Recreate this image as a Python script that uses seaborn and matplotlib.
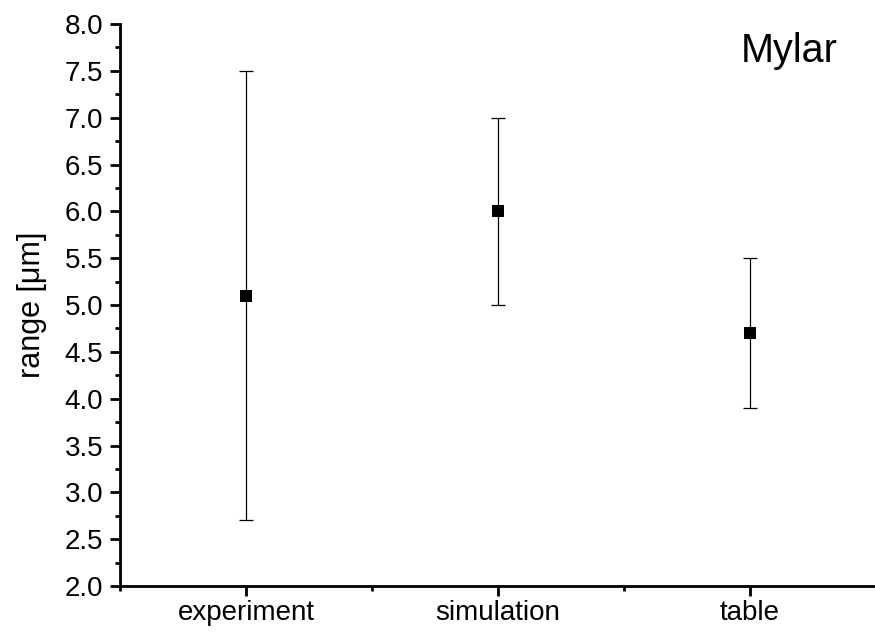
import matplotlib
matplotlib.use("Agg")
import matplotlib.pyplot as plt
from matplotlib.ticker import MultipleLocator, FixedLocator, FormatStrFormatter
import seaborn as sns
import pandas as pd

categories = ["experiment", "simulation", "table"]
values = [5.1, 6.0, 4.7]
lower = [2.7, 5.0, 3.9]
upper = [7.5, 7.0, 5.5]

sns.set_style("ticks")
plt.rcParams['font.family'] = ['Liberation Sans', 'DejaVu Sans']
plt.rcParams['text.color'] = 'black'
plt.rcParams['axes.labelcolor'] = 'black'
plt.rcParams['xtick.color'] = 'black'
plt.rcParams['ytick.color'] = 'black'

df = pd.DataFrame({"cat": categories, "val": values, "pos": range(len(categories))})

fig = plt.figure(figsize=(8.75, 6.37), dpi=100)
ax = fig.add_axes([120/875, 1-586/637, 756/875, (586-24)/637])

yerr = [[v - l for v, l in zip(values, lower)], [u - v for v, u in zip(values, upper)]]
ax.errorbar(df["pos"], df["val"], yerr=yerr, fmt="none", ecolor="black",
            elinewidth=0.9, capsize=4.7, capthick=0.9, zorder=2)
sns.scatterplot(data=df, x="pos", y="val", marker="s", color="black", s=75,
                edgecolor="black", linewidth=0, ax=ax, zorder=3)

ax.set_xlim(-0.5, 2.5)
ax.set_ylim(2.0, 8.0)
ax.set_xticks(range(len(categories)))
ax.set_xticklabels(categories)
ax.xaxis.set_minor_locator(FixedLocator([-0.5, 0.5, 1.5, 2.5]))
ax.yaxis.set_major_locator(MultipleLocator(0.5))
ax.yaxis.set_minor_locator(MultipleLocator(0.25))
ax.yaxis.set_major_formatter(FormatStrFormatter("%.1f"))

ax.tick_params(which="major", length=7, width=2, labelsize=20, direction="out",
               colors="black")
ax.tick_params(axis="y", which="major", pad=5)
ax.tick_params(axis="x", which="major", pad=3)
ax.tick_params(which="minor", length=3.6, width=2, direction="out", colors="black")
ax.set_xlabel("")
ax.set_ylabel("range [μm]", fontsize=22, color="black")
ax.yaxis.set_label_coords((47 - 120) / 756, 0.5)

for s in ["top", "right"]:
    ax.spines[s].set_visible(False)
for s in ["left", "bottom"]:
    ax.spines[s].set_linewidth(2)
    ax.spines[s].set_color("black")

fig.text(789/875, 1-62/637, "Mylar", fontsize=28.5, ha="center", va="baseline", color="black")

fig.savefig("out.png", dpi=100)
